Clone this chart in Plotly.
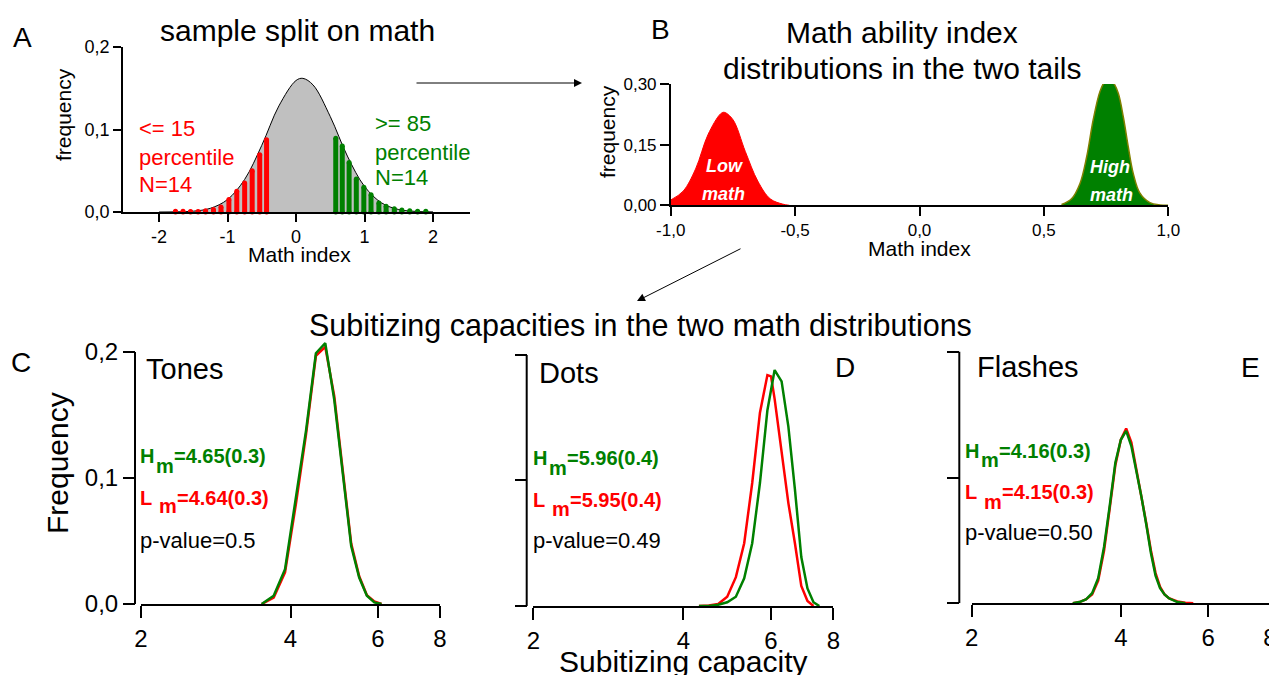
import math
import plotly.graph_objects as go

# The page body keeps its default 8px margin, so the figure is drawn 8px in from
# the top-left corner; size it to fill the rest of the 1277x675 window.
OFF = 8
W, H = 1277 - OFF, 675 - OFF
FONT = "Liberation Sans, Arial, sans-serif"

# ---------------- Panel A data ----------------
a_curve_x = [-2.0, -1.75, -1.5, -1.25, -1.0, -0.75, -0.5, -0.25, 0.0, 0.1, 0.25, 0.5, 0.75, 1.0, 1.25, 1.5, 1.75, 2.0]
a_curve_y = [0.0, 0.0002, 0.0010, 0.0045, 0.0151, 0.0395, 0.0808, 0.1286, 0.1594, 0.162, 0.1539, 0.1157, 0.0678, 0.0310, 0.0110, 0.0030, 0.0007, 0.0001]
a_low_x = [-1.76, -1.65, -1.54, -1.43, -1.32, -1.205, -1.095, -0.98, -0.865, -0.75, -0.64, -0.53, -0.43]
a_low_h = [0.001, 0.001, 0.0005, 0.0005, 0.0015, 0.003, 0.006, 0.015, 0.025, 0.035, 0.050, 0.0695, 0.0875]
a_high_x = [0.58, 0.675, 0.775, 0.88, 0.99, 1.095, 1.21, 1.315, 1.435, 1.545, 1.66, 1.775, 1.895]
a_high_h = [0.0895, 0.080, 0.060, 0.040, 0.030, 0.021, 0.011, 0.007, 0.004, 0.0025, 0.0015, 0.001, 0.001]
a_xticks = [-2, -1, 0, 1, 2]
a_xtext = ["-2", "-1", "0", "1", "2"]
a_yticks = [0, 0.1, 0.2]
a_ytext = ["0,0", "0,1", "0,2"]

# ---------------- Panel B data ----------------
b_low_x = [-1.0, -0.95, -0.9, -0.85, -0.8, -0.785, -0.75, -0.7, -0.65, -0.6, -0.55, -0.523]
b_low_y = [0.013, 0.035, 0.090, 0.175, 0.226, 0.230, 0.212, 0.133, 0.060, 0.016, 0.003, 0.0]
b_high_x = [0.571, 0.611, 0.645, 0.672, 0.698, 0.725, 0.745, 0.759, 0.779, 0.799, 0.819, 0.839, 0.859, 0.886, 0.926, 0.967, 1.0]
b_high_y = [0.002, 0.016, 0.054, 0.120, 0.211, 0.281, 0.306, 0.310, 0.303, 0.277, 0.219, 0.145, 0.079, 0.030, 0.0066, 0.0008, 0.0]
b_xticks = [-1.0, -0.5, 0.0, 0.5, 1.0]
b_xtext = ["-1,0", "-0,5", "0,0", "0,5", "1,0"]
b_yticks = [0, 0.15, 0.30]
b_ytext = ["0,00", "0,15", "0,30"]

# ---------------- Panels C, D, E data ----------------
c_high_x = [3.5, 3.7, 3.9, 4.1, 4.3, 4.5, 4.7, 4.9, 5.1, 5.3, 5.5, 5.7, 5.9, 6.1]
c_high_y = [0.0, 0.0066, 0.0276, 0.083, 0.138, 0.199, 0.207, 0.162, 0.102, 0.046, 0.021, 0.0066, 0.0013, 0.0]
c_low_x = [3.5, 3.7, 3.9, 4.1, 4.3, 4.5, 4.7, 4.9, 5.1, 5.3, 5.5, 5.7, 5.9, 6.1]
c_low_y = [0.0, 0.005, 0.025, 0.079, 0.135, 0.197, 0.204, 0.165, 0.105, 0.048, 0.022, 0.007, 0.002, 0.0]

d_high_x = [4.3, 4.5, 4.7, 4.9, 5.1, 5.3, 5.5, 5.7, 5.9, 6.1, 6.3, 6.5, 6.7, 6.9, 7.1, 7.3, 7.5]
d_high_y = [0.0, 0.0, 0.001, 0.003, 0.0074, 0.022, 0.050, 0.098, 0.156, 0.188, 0.179, 0.143, 0.093, 0.039, 0.014, 0.003, 0.0]
d_low_x = [4.3, 4.5, 4.7, 4.9, 5.1, 5.3, 5.5, 5.7, 5.9, 6.0, 6.1, 6.3, 6.5, 6.7, 6.9, 7.1, 7.3]
d_low_y = [0.0, 0.0005, 0.0016, 0.0074, 0.023, 0.050, 0.098, 0.154, 0.184, 0.183, 0.165, 0.125, 0.082, 0.050, 0.016, 0.004, 0.0]

e_high_x = [3.2, 3.3, 3.4, 3.5, 3.6, 3.7, 3.8, 3.9, 4.0, 4.1, 4.2, 4.3, 4.4, 4.5, 4.6, 4.7, 4.8, 4.9, 5.0, 5.2, 5.4]
e_high_y = [0.0, 0.001, 0.003, 0.008, 0.020, 0.045, 0.078, 0.112, 0.130, 0.137, 0.125, 0.105, 0.085, 0.063, 0.040, 0.022, 0.012, 0.007, 0.004, 0.001, 0.0]
e_low_x = [3.2, 3.3, 3.4, 3.5, 3.6, 3.7, 3.8, 3.9, 4.0, 4.1, 4.2, 4.3, 4.4, 4.5, 4.6, 4.7, 4.8, 4.9, 5.0, 5.2, 5.4, 5.6]
e_low_y = [0.0, 0.001, 0.003, 0.007, 0.018, 0.042, 0.076, 0.110, 0.130, 0.139, 0.128, 0.107, 0.086, 0.064, 0.042, 0.024, 0.013, 0.007, 0.004, 0.0015, 0.0005, 0.0]

sub_xticks = [2, 4, 6, 8]
sub_xtext = ["2", "4", "6", "8"]
sub_yticks = [0, 0.1, 0.2]
sub_ytext = ["0,0", "0,1", "0,2"]

panel_names = ["Tones", "Dots", "Flashes"]
high_stats = ["=4.65(0.3)", "=5.96(0.4)", "=4.16(0.3)"]
low_stats = ["=4.64(0.3)", "=5.95(0.4)", "=4.15(0.3)"]
p_values = ["p-value=0.5", "p-value=0.49", "p-value=0.50"]

RED = "#ff0000"
GREEN = "#008000"


def fx(p):
    return (p - OFF) / W


def fy(p):
    return 1 - (p - OFF) / H


fig = go.Figure()

# ---- Panel A ----
fig.add_trace(go.Scatter(x=a_curve_x, y=a_curve_y, mode="lines", line=dict(color="black", width=1, shape="spline"),
                         fill="tozeroy", fillcolor="#c0c0c0", xaxis="x", yaxis="y", hoverinfo="skip"))


def stems(xs, hs):
    sx, sy = [], []
    for x, h in zip(xs, hs):
        sx += [x, x, None]
        sy += [0, h, None]
    return sx, sy


for xs, hs, col in [(a_low_x, a_low_h, RED), (a_high_x, a_high_h, GREEN)]:
    sx, sy = stems(xs, hs)
    fig.add_trace(go.Scatter(x=sx, y=sy, mode="lines+markers", line=dict(color=col, width=5),
                             marker=dict(color=col, size=5), cliponaxis=False, xaxis="x", yaxis="y", hoverinfo="skip"))

# ---- Panel B ----
fig.add_trace(go.Scatter(x=b_low_x, y=b_low_y, mode="lines", line=dict(color=RED, width=1, shape="spline"),
                         fill="tozeroy", fillcolor=RED, xaxis="x2", yaxis="y2", hoverinfo="skip"))
fig.add_trace(go.Scatter(x=b_high_x, y=b_high_y, mode="lines", line=dict(color="#808000", width=1.5, shape="spline"),
                         fill="tozeroy", fillcolor=GREEN, xaxis="x2", yaxis="y2", hoverinfo="skip"))

# ---- Panels C, D, E ----
for i, (lx, ly, hx, hy) in enumerate([(c_low_x, c_low_y, c_high_x, c_high_y),
                                      (d_low_x, d_low_y, d_high_x, d_high_y),
                                      (e_low_x, e_low_y, e_high_x, e_high_y)]):
    n = i + 3
    fig.add_trace(go.Scatter(x=lx, y=ly, mode="lines", line=dict(color=RED, width=2.5),
                             xaxis=f"x{n}", yaxis=f"y{n}", hoverinfo="skip"))
    fig.add_trace(go.Scatter(x=hx, y=hy, mode="lines", line=dict(color=GREEN, width=2.5),
                             xaxis=f"x{n}", yaxis=f"y{n}", hoverinfo="skip"))

common = dict(showgrid=False, zeroline=False, linecolor="black", ticks="outside",
              tickcolor="black", color="black", automargin=False)

layout = dict(
    width=W, height=H, margin=dict(l=0, r=0, t=0, b=0, pad=0, autoexpand=False),
    paper_bgcolor="white", plot_bgcolor="white", showlegend=False,
    font=dict(family=FONT, color="black"),
    xaxis=dict(domain=[fx(123), fx(470)], range=[-2.526, 2.54], anchor="y", showline=True, linewidth=1.5,
               tickwidth=1.5, ticklen=8, tickvals=a_xticks, ticktext=a_xtext, tickfont=dict(size=18), **common),
    yaxis=dict(domain=[fy(212), fy(47)], range=[0, 0.2], anchor="x", showline=True, linewidth=1.5,
               tickwidth=1.5, ticklen=8, tickvals=a_yticks, ticktext=a_ytext, tickfont=dict(size=18), **common),
    xaxis2=dict(domain=[fx(670.7), fx(1168.3)], range=[-1, 1], anchor="y2", showline=True, linewidth=1.5,
                tickwidth=1.5, ticklen=9, tickvals=b_xticks, ticktext=b_xtext, tickfont=dict(size=17), **common),
    yaxis2=dict(domain=[fy(205.3), fy(84)], range=[0, 0.30], anchor="x2", showline=True, linewidth=1.5,
                tickwidth=1.5, ticklen=9, tickvals=b_yticks, ticktext=b_ytext, tickfont=dict(size=17), **common),
)

YTOP = 0.215  # small headroom above the 0,2 tick so peaks are not clipped
shapes = []
sub_panels = [
    (3, 141, 440, 604, 352, 135, True),
    (4, 533.3, 833.3, 606, 355, 526.7, False),
    (5, 971.7, 1270, 603.3, 351.7, 959.3, False),
]
for n, x0, x1, yb, yt, ypos, lab in sub_panels:
    ppu = (yb - yt) / 0.2
    ytop_px = yb - ppu * YTOP
    layout[f"xaxis{n}"] = dict(domain=[fx(x0), fx(x1)], type="log", range=[math.log10(2), math.log10(8)],
                               anchor=f"y{n}", showline=True, linewidth=2, tickwidth=2, ticklen=12,
                               tickvals=sub_xticks, ticktext=sub_xtext, tickfont=dict(size=24), **common)
    layout[f"yaxis{n}"] = dict(domain=[fy(yb), fy(ytop_px)], range=[0, YTOP], anchor="free", position=fx(ypos),
                               showline=False, tickwidth=2, ticklen=12, tickvals=sub_yticks,
                               ticktext=sub_ytext, showticklabels=lab, tickfont=dict(size=24), **common)
    shapes.append(dict(type="line", xref="paper", yref=f"y{n}", x0=fx(ypos), x1=fx(ypos), y0=0, y1=0.2,
                       line=dict(color="black", width=2)))

layout["shapes"] = shapes
fig.update_layout(**layout)


def ann(text, x, y, size, color="black", xanchor="center", yanchor="middle", angle=0):
    if xanchor == "left":
        x -= 3  # compensate the annotation's inner padding
    fig.add_annotation(text=text, x=fx(x), y=fy(y), xref="paper", yref="paper", showarrow=False,
                       font=dict(size=size, color=color, family=FONT), xanchor=xanchor, yanchor=yanchor,
                       textangle=angle)


# panel letters
ann("A", 22, 38, 28)
ann("B", 660, 30, 28)
ann("C", 21, 362, 28)
ann("D", 845, 367, 28)
ann("E", 1250, 367, 28)

# titles
ann("sample split on math", 297, 31, 30)
ann("Math ability index", 902, 32, 30)
ann("distributions in the two tails", 902, 68, 30)
ann("Subitizing capacities in the two math distributions", 640, 326, 30.5)

# panel A texts
ann("frequency", 63, 115, 21, angle=-90)
ann("Math index", 299, 254, 21)
for t, y in [("&lt;= 15", 128), ("percentile", 157), ("N=14", 184)]:
    ann(t, 140, y, 22, RED, xanchor="left")
for t, y in [("&gt;= 85", 123), ("percentile", 152), ("N=14", 177)]:
    ann(t, 376, y, 22, GREEN, xanchor="left")

# panel B texts
ann("frequency", 608, 132, 21, angle=-90)
ann("Math index", 919, 248, 21)
ann("<b><i>Low</i></b>", 724, 166, 18, "white")
ann("<b><i>math</i></b>", 723, 194, 18, "white")
ann("<b><i>High</i></b>", 1110, 167, 18, "white")
ann("<b><i>math</i></b>", 1111, 195, 18, "white")

# bottom panels texts
ann("Frequency", 57, 463, 30, angle=-90)
ann("Subitizing capacity", 683, 661, 30)

# per panel: name pos, then H line (x of H, x of m, x of '=', y of caps, y of m),
# L line (same), p-value y
text_pos = [
    ((147, 369), (141, 156.5, 175, 456, 466), (141, 160, 178, 498, 506), 540),
    ((540, 373), (533.5, 549.5, 567.5, 458, 467.5), (533.5, 553, 571, 500, 509), 540),
    ((978, 367), (966, 982, 1000, 451, 460), (966, 985, 1003, 492, 502), 532),
]
for i, ((nx, ny), hpos, lpos, yp) in enumerate(text_pos):
    ann(panel_names[i], nx, ny, 29, xanchor="left")
    for (xl, xm, xe, yc, ym), letter, stat, col in [(hpos, "H", high_stats[i], GREEN),
                                                     (lpos, "L", low_stats[i], RED)]:
        ann(f"<b>{letter}</b>", xl, yc, 20, col, xanchor="left")
        ann("<b>m</b>", xm, ym, 20, col, xanchor="left")
        ann(f"<b>{stat}</b>", xe, yc, 20, col, xanchor="left")
    ann(p_values[i], 141 if i == 0 else (533.5 if i == 1 else 966), yp, 22, xanchor="left")

# arrows
fig.add_annotation(x=fx(582), y=fy(83), xref="paper", yref="paper", ax=-167, ay=0, text="",
                   showarrow=True, arrowhead=2, arrowsize=1.6, arrowwidth=1, arrowcolor="black")
fig.add_annotation(x=fx(637), y=fy(301), xref="paper", yref="paper", ax=105, ay=-53, text="",
                   showarrow=True, arrowhead=2, arrowsize=1.6, arrowwidth=1, arrowcolor="black")

fig.write_html("out.html")
